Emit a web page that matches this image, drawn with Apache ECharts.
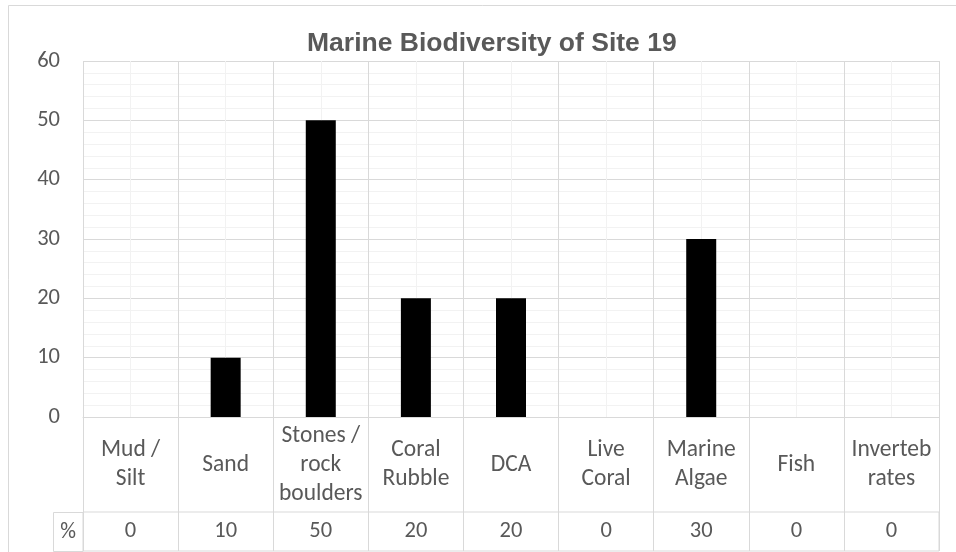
<!DOCTYPE html>
<html>
<head>
<meta charset="utf-8">
<script src="https://cdn.jsdelivr.net/npm/echarts@6/dist/echarts.min.js"></script>
<style>html,body{margin:0;padding:0;background:#fff;}#c{width:956px;height:552px;}</style>
</head>
<body>
<div id="c"></div>
<script>
const categories = ['Mud /\nSilt', 'Sand', 'Stones /\nrock\nboulders', 'Coral\nRubble', 'DCA', 'Live\nCoral', 'Marine\nAlgae', 'Fish', 'Inverteb\nrates'];
const values = [0, 10, 50, 20, 20, 0, 30, 0, 0];
const yTicks = [0, 10, 20, 30, 40, 50, 60];
const seriesName = '%';

const FONT = 'Carlito, Lato, sans-serif';
const TXT = '#595959';
const MAJOR = '#d9d9d9';
const MINOR = '#f2f2f2';

const chart = echarts.init(document.getElementById('c'), null, {renderer: 'canvas'});
chart.setOption({
  animation: false,
  backgroundColor: '#fff',
  title: {
    text: 'Marine Biodiversity of Site 19',
    left: 302, top: 26,
    textStyle: {fontFamily: '"Liberation Sans", Arial, sans-serif', fontWeight: 'bold', fontSize: 26.5, color: TXT, lineHeight: 26}
  },
  graphic: [
    {type: 'rect', shape: {x: 8.5, y: 5.5, width: 980, height: 580}, style: {fill: 'none', stroke: MAJOR, lineWidth: 1}, silent: true, z: -10},
    {type: 'rect', shape: {x: 53.5, y: 512.5, width: 29.5, height: 39}, style: {fill: '#fff', stroke: MAJOR, lineWidth: 1}, silent: true},
    {type: 'text', x: 68, y: 532, style: {text: seriesName, fontFamily: FONT, fontSize: 22, fill: TXT, align: 'center', verticalAlign: 'middle'}, silent: true}
  ],
  grid: [
    {left: 83, top: 61, right: 17, bottom: 135, containLabel: false},
    {left: 83, top: 512, right: 17, height: 39, show: true, borderColor: MAJOR, borderWidth: 1, containLabel: false}
  ],
  xAxis: [
    {
      type: 'category', gridIndex: 0, data: categories,
      axisLine: {show: true, lineStyle: {color: MAJOR, width: 1}},
      axisTick: {show: true, interval: 0, length: 95, lineStyle: {color: MAJOR}},
      axisLabel: {interval: 0, color: TXT, fontFamily: FONT, fontSize: 23.5, lineHeight: 29, verticalAlign: 'middle', margin: 48},
      splitLine: {show: false}
    },
    {
      type: 'value', gridIndex: 0, min: 0, max: 18, interval: 1, position: 'top',
      axisLine: {show: false}, axisTick: {show: false}, axisLabel: {show: false},
      splitLine: {show: true, lineStyle: {color: [MAJOR, MINOR], width: 1}}
    },
    {
      type: 'category', gridIndex: 1, data: values.map(String),
      axisLine: {show: false}, axisTick: {show: false},
      axisLabel: {interval: 0, color: TXT, fontFamily: FONT, fontSize: 22.5, verticalAlign: 'middle', margin: -19.5},
      splitLine: {show: true, interval: 0, lineStyle: {color: MAJOR}}
    }
  ],
  yAxis: [
    {
      type: 'value', gridIndex: 0, min: yTicks[0], max: yTicks[yTicks.length - 1], interval: 10,
      axisLine: {show: false}, axisTick: {show: false},
      axisLabel: {color: TXT, fontFamily: FONT, fontSize: 22.5, margin: 23},
      splitLine: {show: true, lineStyle: {color: MAJOR, width: 1}},
      minorTick: {show: false, splitNumber: 5},
      minorSplitLine: {show: true, lineStyle: {color: MINOR, width: 1}}
    },
    {type: 'value', gridIndex: 1, show: false}
  ],
  series: [{
    name: seriesName, type: 'bar', xAxisIndex: 0, yAxisIndex: 0,
    data: values, barWidth: 30,
    itemStyle: {color: '#000000'}
  }]
});
</script>
</body>
</html>
